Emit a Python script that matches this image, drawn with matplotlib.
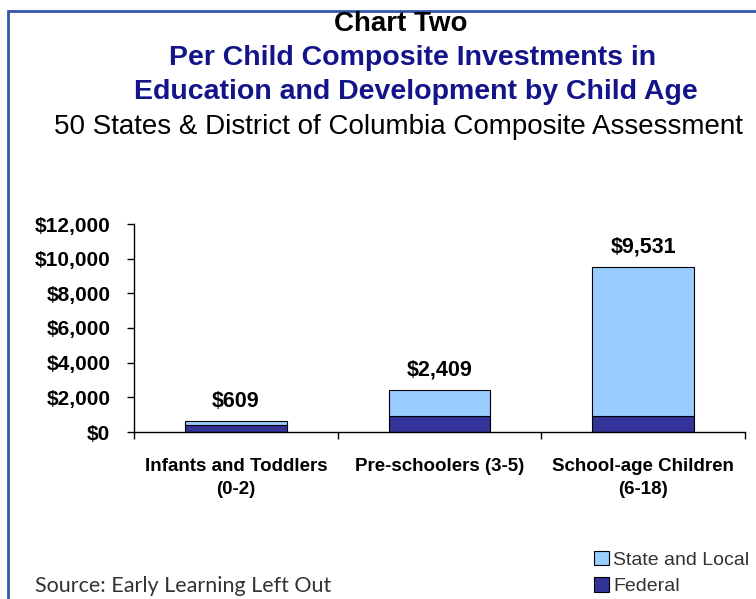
import matplotlib.pyplot as plt
from matplotlib.patches import Rectangle
import numpy as np

plt.rcParams['font.family'] = ['Liberation Sans', 'DejaVu Sans']

categories = ['Infants and Toddlers\n(0-2)', 'Pre-schoolers (3-5)', 'School-age Children\n(6-18)']
federal = [390, 920, 920]
totals = [609, 2409, 9531]
state_local = [t - f for t, f in zip(totals, federal)]
total_labels = ['$609', '$2,409', '$9,531']
yticks = [0, 2000, 4000, 6000, 8000, 10000, 12000]

W, H = 756, 599
fig = plt.figure(figsize=(W / 100, H / 100), dpi=100)

# blue frame around the whole chart (runs off the right and bottom edges)
fig.patches.append(Rectangle((8 / W, -0.05), 1.2, 1 - 10.5 / H + 0.05,
                             transform=fig.transFigure, fill=False,
                             edgecolor='#3355aa', linewidth=2))

ax = fig.add_axes([134 / W, 1 - 432 / H, 611 / W, 208 / H])

x = np.arange(len(categories))
ax.bar(x, federal, width=0.5, color='#333399', edgecolor='black', linewidth=0.8,
       label='Federal')
ax.bar(x, state_local, width=0.5, bottom=federal, color='#99ccff', edgecolor='black',
       linewidth=0.8, label='State and Local')

for xi, t, lab in zip(x, totals, total_labels):
    ax.annotate(lab, (xi, t), xytext=(0, 7), textcoords='offset points',
                ha='center', va='bottom', fontsize=15.5, fontweight='bold')

ax.set_xlim(-0.5, 2.5)
ax.set_ylim(0, 12000)
ax.set_yticks(yticks)
ax.set_yticklabels(['${:,}'.format(v) for v in yticks], fontsize=15, fontweight='bold')

# category names sit between the boundary ticks
ax.set_xticks([-0.5, 0.5, 1.5, 2.5])
ax.set_xticklabels([])
ax.set_xticks(x, minor=True)
ax.set_xticklabels(categories, minor=True, fontsize=13.5, fontweight='bold',
                   linespacing=1.45)
ax.tick_params(axis='x', which='minor', length=0, pad=19)
ax.tick_params(axis='x', which='major', length=5, width=1)
ax.tick_params(axis='y', length=5, width=1, pad=12)

for side in ['top', 'right']:
    ax.spines[side].set_visible(False)
ax.spines['left'].set_linewidth(1)
ax.spines['bottom'].set_linewidth(1)

fig.text(401 / W, 1 - 31 / H, 'Chart Two', ha='center', va='baseline',
         fontsize=20, fontweight='bold', color='black')
fig.text(413 / W, 1 - 65 / H, 'Per Child Composite Investments in', ha='center',
         va='baseline', fontsize=20.5, fontweight='bold', color='#14148a')
fig.text(416 / W, 1 - 99 / H, 'Education and Development by Child Age', ha='center',
         va='baseline', fontsize=20.5, fontweight='bold', color='#14148a')
fig.text(398 / W, 1 - 134 / H, '50 States & District of Columbia Composite Assessment',
         ha='center', va='baseline', fontsize=20, color='black')

fig.text(35 / W, 1 - 586 / H, 'Source: Early Learning Left Out', ha='left',
         va='center', fontsize=15.5, color='#333333', family=['Lato', 'DejaVu Sans'])

handles, labels = ax.get_legend_handles_labels()
fig.legend(handles[::-1], labels[::-1], loc='center left',
           bbox_to_anchor=(594 / W, 1 - 573 / H), frameon=False, fontsize=14,
           handlelength=0.75, handleheight=0.75, handletextpad=0.25, labelspacing=0.45,
           borderpad=0, borderaxespad=0, labelcolor='#333333')

fig.savefig('out.png', dpi=100)
